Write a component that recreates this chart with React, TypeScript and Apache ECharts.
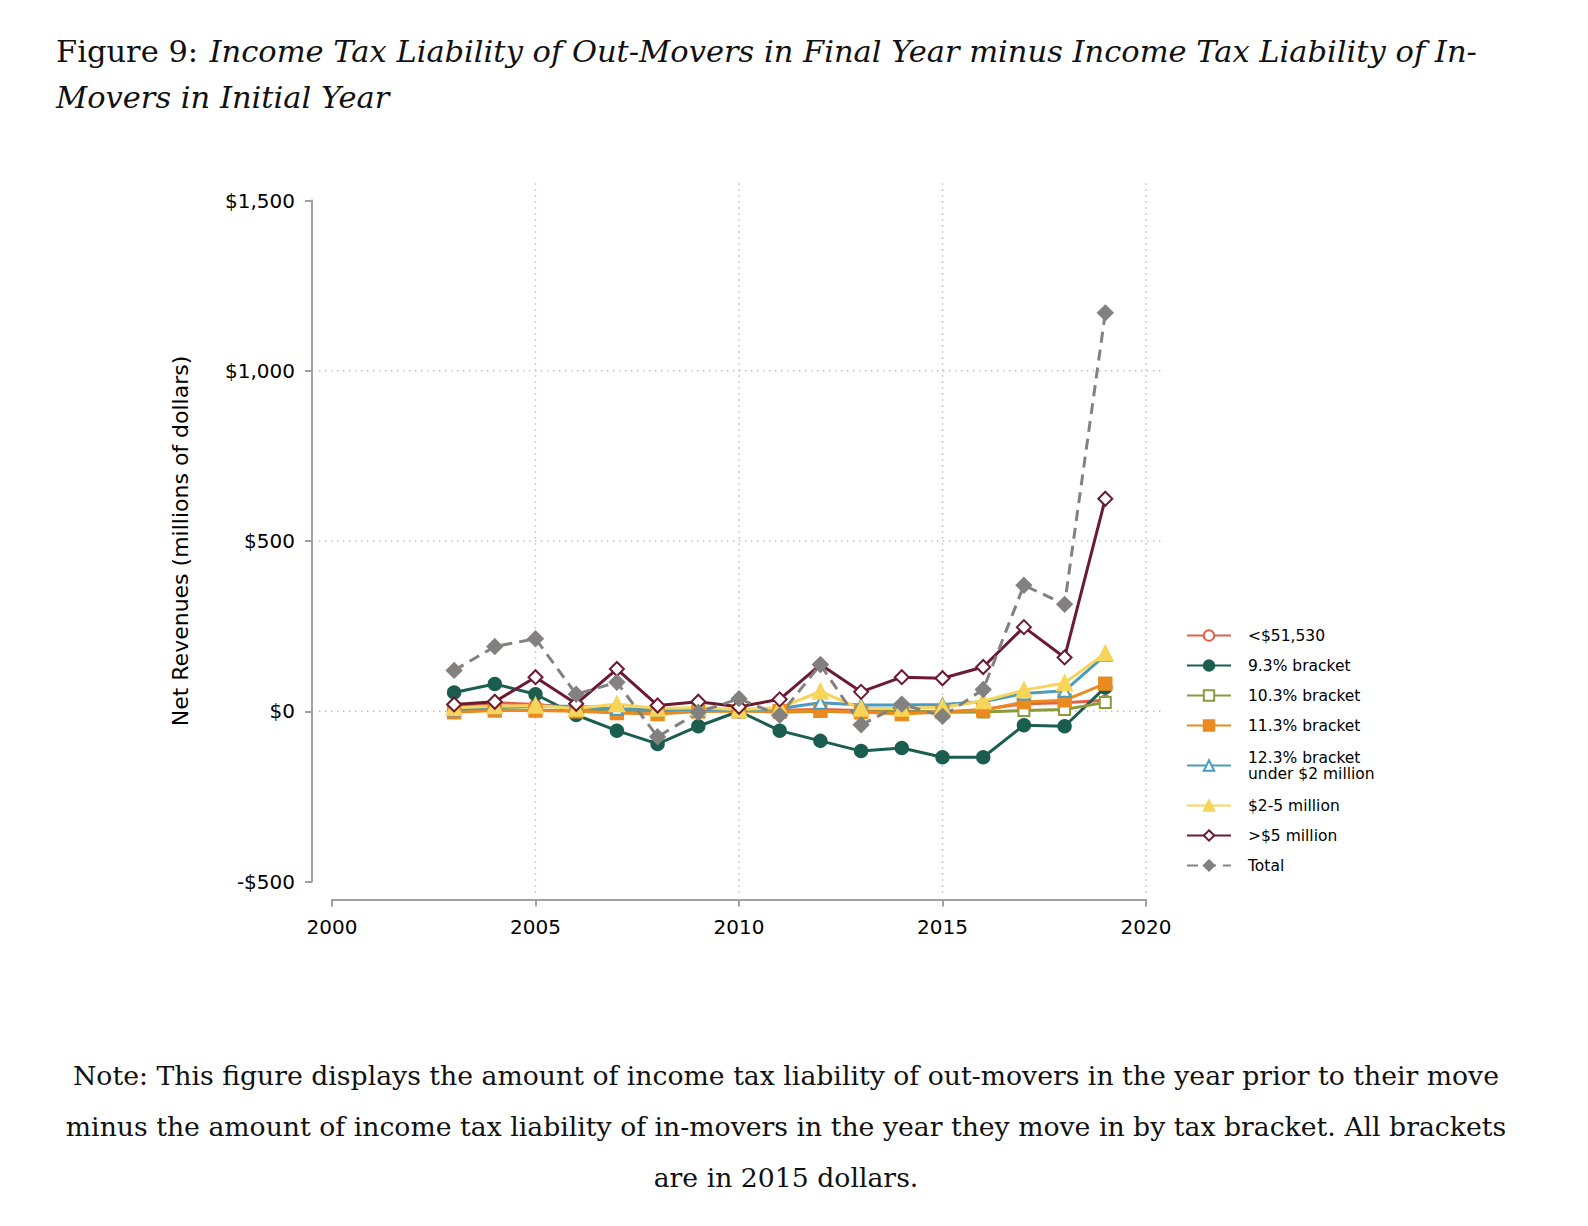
import React, { useEffect, useRef } from "react";
import * as echarts from "echarts";

const years = [2003, 2004, 2005, 2006, 2007, 2008, 2009, 2010, 2011, 2012, 2013, 2014, 2015, 2016, 2017, 2018, 2019];

const under51530 = [15, 25, 20, 10, 5, 0, 5, 3, 3, 5, 2, 0, -2, 5, 22, 25, 32];
const bracket93 = [55, 80, 50, -11, -57, -96, -44, 0, -57, -87, -117, -108, -135, -135, -41, -44, 70];
const bracket103 = [2, 5, 3, 3, -3, 2, 5, 2, -3, 0, -3, 0, -3, -2, 2, 5, 26];
const bracket113 = [-3, 2, 2, 0, -5, -8, -1, 0, 0, 1, -2, -8, -2, 3, 27, 32, 81];
const bracket123 = [5, 12, 15, 15, 7, 5, 5, 3, 8, 25, 18, 18, 20, 28, 52, 60, 165];
const million2to5 = [10, 15, 17, 8, 21, 8, 10, 5, 10, 58, 8, 8, 12, 30, 62, 83, 170];
const over5million = [20, 28, 100, 22, 124, 17, 28, 13, 35, 137, 57, 100, 97, 130, 247, 158, 624];
const total = [120, 190, 213, 50, 85, -75, -3, 37, -12, 137, -40, 21, -15, 64, 370, 314, 1170];

const seriesNames = [
  "<$51,530",
  "9.3% bracket",
  "10.3% bracket",
  "11.3% bracket",
  "12.3% bracket\nunder $2 million",
  "$2-5 million",
  ">$5 million",
  "Total",
];

const hGridValues = [0, 500, 1000];
const vGridValues = [2005, 2010, 2015, 2020];

const titleLead = "Figure 9:";
const titleLine1 = "Income Tax Liability of Out-Movers in Final Year minus Income Tax Liability of In-";
const titleLine2 = "Movers in Initial Year";
const noteLines = [
  "Note: This figure displays the amount of income tax liability of out-movers in the year prior to their move",
  "minus the amount of income tax liability of in-movers in the year they move in by tax bracket. All brackets",
  "are in 2015 dollars.",
];

const SANS = "'DejaVu Sans', Verdana, sans-serif";
const SERIF = "'DejaVu Serif', 'Liberation Serif', serif";

function fmtDollar(v: number): string {
  const abs = Math.abs(v).toLocaleString("en-US");
  return (v < 0 ? "-$" : "$") + abs;
}

export default function App() {
  const ref = useRef<HTMLDivElement>(null);

  useEffect(() => {
    document.body.style.margin = "0";
    if (!ref.current) return;
    const chart = echarts.init(ref.current, null, { renderer: "svg" });

    const styles = [
      { color: "#e2614b", symbol: "emptyCircle", size: 10, dash: false },
      { color: "#1b5e50", symbol: "circle", size: 12, dash: false },
      { color: "#8a9b3c", symbol: "emptyRect", size: 11, dash: false },
      { color: "#ea8a1f", symbol: "rect", size: 12, dash: false },
      { color: "#4b9bc0", symbol: "emptyTriangle", size: 12, dash: false },
      { color: "#f6d55a", symbol: "triangle", size: 14, dash: false },
      { color: "#6b1a30", symbol: "emptyDiamond", size: 14, dash: false },
      { color: "#838080", symbol: "diamond", size: 14, dash: true },
    ];
    const values = [under51530, bracket93, bracket103, bracket113, bracket123, million2to5, over5million, total];

    const lineSeries = values.map((vals, i) => ({
      name: seriesNames[i],
      type: "line",
      data: years.map((y, j) => [y, vals[j]]),
      symbol: styles[i].symbol,
      symbolSize: styles[i].size,
      showAllSymbol: true,
      lineStyle: { color: styles[i].color, width: 3, type: styles[i].dash ? [11, 7] : "solid" },
      itemStyle: { color: styles[i].color, borderColor: styles[i].color, borderWidth: 2.4 },
      emphasis: { disabled: true },
      z: 3,
    }));

    // gridline segments [x1, y1, x2, y2] in data units
    const gridSegs: number[][] = [];
    hGridValues.forEach((v) => gridSegs.push([1999.68, v, 2020.47, v]));
    vGridValues.forEach((v) => gridSegs.push([v, -533, v, 1563]));

    const gridSeries = {
      name: "grid",
      type: "custom",
      silent: true,
      clip: false,
      z: 1,
      encode: { x: [0, 2], y: [1, 3] },
      data: gridSegs,
      renderItem: (params: any, api: any) => {
        const p1 = api.coord([api.value(0), api.value(1)]);
        const p2 = api.coord([api.value(2), api.value(3)]);
        return {
          type: "line",
          shape: { x1: p1[0], y1: p1[1], x2: p2[0], y2: p2[1] },
          style: { stroke: "#bdbdbd", lineWidth: 1.4, lineDash: [1.4, 4.6] },
        };
      },
    };

    const legendData = seriesNames.map((n) =>
      n.indexOf("\n") >= 0
        ? { name: n, textStyle: { lineHeight: 16, padding: [5, 0, 0, 12] } }
        : { name: n }
    );

    chart.setOption({
      animation: false,
      backgroundColor: "#ffffff",
      textStyle: { fontFamily: SANS },
      title: [
        {
          left: 51,
          top: 23,
          text: "{n|" + titleLead + "}  {i|" + titleLine1 + "}\n{i|" + titleLine2 + "}",
          textStyle: {
            fontWeight: "normal",
            rich: {
              n: { fontFamily: SERIF, fontWeight: "normal", fontSize: 30.5, color: "#111", lineHeight: 46 },
              i: { fontFamily: SERIF, fontWeight: "normal", fontStyle: "italic", fontSize: 30.5, color: "#111", lineHeight: 46 },
            },
          },
        },
      ],
      grid: { left: 332, right: 442, top: 200.5, bottom: 344.5, containLabel: false },
      xAxis: {
        type: "value",
        min: 2000,
        max: 2020,
        interval: 5,
        offset: 18,
        axisLine: { show: true, onZero: false, lineStyle: { color: "#a0a0a0", width: 2 } },
        axisTick: { show: true, inside: false, length: 7, lineStyle: { color: "#a0a0a0", width: 2 } },
        axisLabel: { color: "#000", fontSize: 20, margin: 17, fontFamily: SANS, formatter: (v: number) => String(v) },
        splitLine: { show: false },
      },
      yAxis: {
        type: "value",
        min: -500,
        max: 1500,
        interval: 500,
        offset: 20,
        name: "Net Revenues (millions of dollars)",
        nameLocation: "middle",
        nameGap: 121,
        nameTextStyle: { color: "#000", fontSize: 22, fontFamily: SANS },
        axisLine: { show: true, onZero: false, lineStyle: { color: "#a0a0a0", width: 2 } },
        axisTick: { show: true, inside: false, length: 7, lineStyle: { color: "#a0a0a0", width: 2 } },
        axisLabel: { color: "#000", fontSize: 20, margin: 17, fontFamily: SANS, formatter: (v: number) => fmtDollar(v) },
        splitLine: { show: false },
      },
      legend: {
        data: legendData,
        orient: "vertical",
        left: 1181,
        top: 622,
        itemWidth: 44,
        itemHeight: 13,
        itemGap: 13,
        selectedMode: false,
        textStyle: { fontSize: 15.5, color: "#000", fontFamily: SANS, lineHeight: 17, padding: [0, 0, 0, 12] },
      },
      graphic: noteLines.map((line, i) => ({
        type: "text",
        x: 786,
        y: 1062 + i * 51,
        silent: true,
        style: { text: line, font: "26.7px " + SERIF, fill: "#111", textAlign: "center", textVerticalAlign: "top" },
      })),
      series: [gridSeries, ...lineSeries],
    });

    return () => chart.dispose();
  }, []);

  return <div ref={ref} style={{ width: 1588, height: 1226 }} />;
}
